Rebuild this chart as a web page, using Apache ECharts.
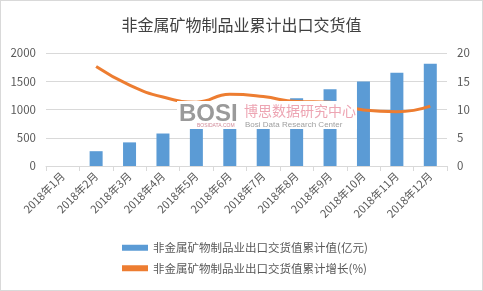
<!DOCTYPE html>
<html>
<head>
<meta charset="utf-8">
<script src="https://cdn.jsdelivr.net/npm/echarts@6/dist/echarts.min.js"></script>
<style>
  html, body { margin: 0; padding: 0; background: #fff; }
  #chart { width: 483px; height: 291px; box-sizing: border-box; border: 1px solid #d9d9d9; }
</style>
</head>
<body>
<div id="chart"></div>
<script>
var months = ['2018年1月', '2018年2月', '2018年3月', '2018年4月', '2018年5月', '2018年6月',
    '2018年7月', '2018年8月', '2018年9月', '2018年10月', '2018年11月', '2018年12月'];
var exportValue = [null, 262, 418, 575, 740, 890, 1040, 1200, 1357, 1496, 1652, 1809];
var growth = [null, 17.6, 14.3, 12.2, 11.3, 12.7, 12.3, 11.4, 11.3, 9.9, 9.6, 10.6];
var leftTicks = { min: 0, max: 2000, interval: 500 };
var rightTicks = { min: 0, max: 20, interval: 5 };

var font = 'Microsoft YaHei, "Noto Sans CJK SC", sans-serif';
var chart = echarts.init(document.getElementById('chart'));
var option = {
    backgroundColor: '#fff',
    animation: false,
    textStyle: { fontFamily: font },
    title: {
        text: '非金属矿物制品业累计出口交货值',
        left: 'center',
        top: 11,
        textStyle: { fontSize: 16, fontWeight: 'normal', color: '#404040', fontFamily: font }
    },
    grid: { left: 45, right: 35, top: 52, bottom: 124 },
    legend: {
        orient: 'vertical',
        left: 116,
        top: 236,
        itemWidth: 26,
        itemHeight: 6,
        itemGap: 9,
        textStyle: { fontSize: 11.5, color: '#595959', fontFamily: font },
        data: [
            { name: '非金属矿物制品业出口交货值累计值(亿元)', icon: 'rect' },
            { name: '非金属矿物制品业出口交货值累计增长(%)', icon: 'rect' }
        ]
    },
    xAxis: {
        type: 'category',
        data: months,
        axisLine: { lineStyle: { color: '#d9d9d9' } },
        axisTick: { show: true, lineStyle: { color: '#d9d9d9' } },
        axisLabel: { rotate: 45, color: '#595959', fontSize: 11, margin: 8 }
    },
    yAxis: [
        {
            type: 'value',
            min: leftTicks.min, max: leftTicks.max, interval: leftTicks.interval,
            axisLine: { show: false },
            axisTick: { show: false },
            axisLabel: { color: '#595959', fontSize: 11.5, margin: 10, formatter: function (v) { return String(v); } },
            splitLine: { lineStyle: { color: '#d9d9d9' } }
        },
        {
            type: 'value',
            min: rightTicks.min, max: rightTicks.max, interval: rightTicks.interval,
            axisLine: { show: false },
            axisTick: { show: false },
            axisLabel: { color: '#595959', fontSize: 11.5, margin: 10, formatter: function (v) { return String(v); } },
            splitLine: { show: false }
        }
    ],
    series: [
        {
            name: '非金属矿物制品业出口交货值累计值(亿元)',
            type: 'bar',
            data: exportValue,
            barWidth: 13,
            itemStyle: { color: '#5b9bd5' }
        },
        {
            name: '非金属矿物制品业出口交货值累计增长(%)',
            type: 'line',
            yAxisIndex: 1,
            data: growth,
            smooth: true,
            symbol: 'none',
            lineStyle: { color: '#ed7d31', width: 3 },
            itemStyle: { color: '#ed7d31' }
        }
    ],
    graphic: [
        {
            type: 'rect', z: 99,
            shape: { x: 176, y: 100, width: 180, height: 28 },
            style: { fill: '#fff' }
        },
        {
            type: 'text', left: 178, top: 101, z: 100,
            style: { text: 'BOSI', fontSize: 24, fontWeight: 'bold', fill: '#9a9a9a', fontFamily: 'Arial' }
        },
        {
            type: 'text', left: 196, top: 122, z: 100,
            style: { text: 'BOSIDATA.COM', fontSize: 5, fill: '#d08a98', fontFamily: 'Arial' }
        },
        {
            type: 'text', left: 243, top: 103, z: 100,
            style: { text: '博思数据研究中心', fontSize: 14, fill: '#eda5b3', fontFamily: font }
        },
        {
            type: 'text', left: 244, top: 120, z: 100,
            style: { text: 'Bosi Data Research Center', fontSize: 8, fill: '#a0a0a0', fontFamily: 'Arial' }
        }
    ]
};
chart.setOption(option);
</script>
</body>
</html>
